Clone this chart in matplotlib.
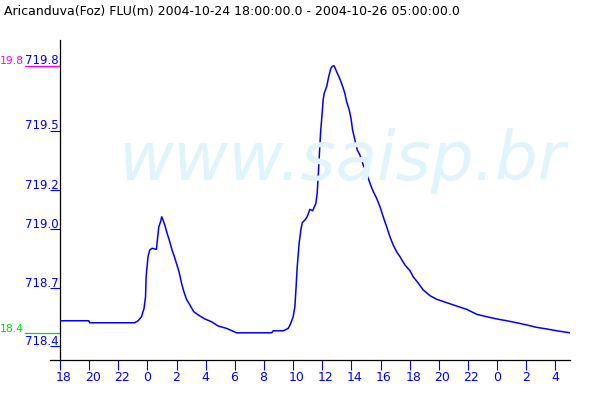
import matplotlib
matplotlib.use("Agg")
import matplotlib.pyplot as plt
from matplotlib.transforms import blended_transform_factory, ScaledTranslation

# ---------------- data ----------------
title_text = "Aricanduva(Foz) FLU(m) 2004-10-24 18:00:00.0 - 2004-10-26 05:00:00.0"
watermark_text = "www.saisp.br"

# hours since 2004-10-24 18:00
hours = [0.00, 1.97, 2.04, 5.13, 5.36, 5.59, 5.77, 5.87, 5.91, 6.04, 6.16, 6.32,
         6.62, 6.66, 6.78, 6.90, 6.98, 7.07, 7.19, 7.35, 7.53, 7.69, 7.81, 7.99,
         8.17, 8.34, 8.50, 8.68, 8.91, 9.18, 9.59, 9.94, 10.40, 10.85, 11.43,
         12.12, 14.52, 14.63, 15.32, 15.66, 15.82, 16.00, 16.12, 16.19, 16.28,
         16.41, 16.53, 16.62, 16.81, 16.96, 17.15, 17.34, 17.56, 17.65, 17.72,
         17.79, 17.88, 17.97, 18.06, 18.13, 18.30, 18.45, 18.59, 18.71, 18.82,
         18.98, 19.14, 19.28, 19.44, 19.55, 19.67, 19.85, 19.97, 20.08, 20.24,
         20.40, 20.58, 20.81, 21.00, 21.15, 21.32, 21.50, 21.73, 21.96, 22.18,
         22.42, 22.64, 22.87, 23.10, 23.33, 23.67, 24.02, 24.24, 24.59, 24.93,
         25.39, 25.85, 26.54, 27.23, 27.91, 28.60, 29.29, 29.97, 30.66, 31.35,
         32.03, 32.72, 33.41, 34.09, 35.00]
level = [718.531, 718.531, 718.521, 718.521, 718.531, 718.551, 718.593, 718.651,
         718.750, 718.850, 718.883, 718.892, 718.887, 718.917, 718.999, 719.024,
         719.049, 719.033, 719.008, 718.967, 718.925, 718.883, 718.859, 718.817,
         718.775, 718.718, 718.676, 718.638, 718.610, 718.576, 718.555, 718.540,
         718.526, 718.505, 718.493, 718.471, 718.471, 718.481, 718.481, 718.493,
         718.515, 718.551, 718.601, 718.684, 718.800, 718.917, 718.983, 719.019,
         719.033, 719.049, 719.086, 719.079, 719.116, 719.166, 719.249, 719.348,
         719.465, 719.547, 719.631, 719.664, 719.697, 719.750, 719.789, 719.800,
         719.800, 719.772, 719.747, 719.722, 719.689, 719.664, 719.622, 719.581,
         719.539, 719.481, 719.431, 719.382, 719.357, 719.307, 719.273, 719.241,
         719.207, 719.174, 719.141, 719.099, 719.049, 718.999, 718.950, 718.908,
         718.875, 718.850, 718.809, 718.780, 718.750, 718.718, 718.684, 718.656,
         718.638, 718.621, 718.604, 718.588, 718.563, 718.551, 718.540, 718.531,
         718.521, 718.510, 718.498, 718.490, 718.481, 718.471]

xtick_hours = [0, 2, 4, 6, 8, 10, 12, 14, 16, 18, 20, 22, 24, 26, 28, 30, 32, 34]
xtick_labels = ["18", "20", "22", "0", "2", "4", "6", "8", "10", "12", "14",
                "16", "18", "20", "22", "0", "2", "4"]
ytick_values = [719.800, 719.478, 719.182, 718.987, 718.693, 718.405]
ytick_labels = ["719.8", "719.5", "719.2", "719.0", "718.7", "718.4"]

max_level = 719.80
min_level = 718.468
max_label = "19.8"
min_label = "18.4"

# ---------------- figure ----------------
W, H = 600, 400
fig = plt.figure(figsize=(6, 4), dpi=100)
fig.patch.set_facecolor("white")
ax = fig.add_axes([60 / W, 1 - 360 / H, 510 / W, 320 / H])
ax.set_facecolor("none")
ax.set_xlim(0, 35)
ax.set_ylim(718.3355, 719.9295)

blue = "#0000ff"
fs = 9

# watermark
fig.text(118 / W, 1 - 180 / H, watermark_text, fontsize=48.5, style="italic",
         color="#e0f4fc", ha="left", va="baseline", zorder=0)

# title
fig.text(4 / W, 1 - 15 / H, title_text, fontsize=fs, color="black",
         ha="left", va="baseline")

# spines
for s in ("top", "right"):
    ax.spines[s].set_visible(False)
for s in ("left", "bottom"):
    ax.spines[s].set_color("black")
    ax.spines[s].set_linewidth(0.9)
# bottom axis line extends a bit to the left of the y axis
fig.add_artist(plt.Line2D([50 / W, 60 / W], [1 - 360 / H, 1 - 360 / H],
                          color="black", lw=0.9, transform=fig.transFigure))

# x ticks
ax.set_xticks(xtick_hours, xtick_labels)
ax.tick_params(axis="x", direction="out", length=7.2, width=0.8, color=blue,
               labelcolor=blue, labelsize=fs, pad=0.5)
shift = ScaledTranslation(-4.5 / 100, 0, fig.dpi_scale_trans)
for lbl in ax.get_xticklabels():
    lbl.set_ha("left")
    lbl.set_transform(lbl.get_transform() + shift)

# y ticks (labels sit on top of the tick line, right aligned at the axis)
ax.set_yticks(ytick_values)
ax.set_yticklabels([])
ax.tick_params(axis="y", direction="out", length=7.2, width=0.8, color=blue)
ytrans = blended_transform_factory(ax.transAxes, ax.transData) + \
    ScaledTranslation(0, 1.5 / 100, fig.dpi_scale_trans)
for v, lab in zip(ytick_values, ytick_labels):
    ax.text(-0.002, v, lab, transform=ytrans, ha="right", va="baseline",
            fontsize=8.5, color=blue, clip_on=False)

# max / min markers at left
ftrans = blended_transform_factory(fig.transFigure, ax.transData)
ax.plot([25 / W, 60 / W], [max_level, max_level], color="#ff00ff", lw=0.9,
        transform=ftrans, clip_on=False)
ax.plot([25 / W, 60 / W], [min_level, min_level], color="#00e000", lw=0.9,
        transform=ftrans, clip_on=False)
ftrans_up = ftrans + ScaledTranslation(0, 1.5 / 100, fig.dpi_scale_trans)
ax.text(0.0, max_level, max_label, transform=ftrans_up, ha="left",
        va="baseline", fontsize=7.8, color="#ff00ff", clip_on=False)
ax.text(0.0, min_level, min_label, transform=ftrans_up, ha="left",
        va="baseline", fontsize=7.8, color="#00e000", clip_on=False)

# data line
ax.plot(hours, level, color=blue, lw=1.1, zorder=3)

fig.savefig("out.png", dpi=100)
